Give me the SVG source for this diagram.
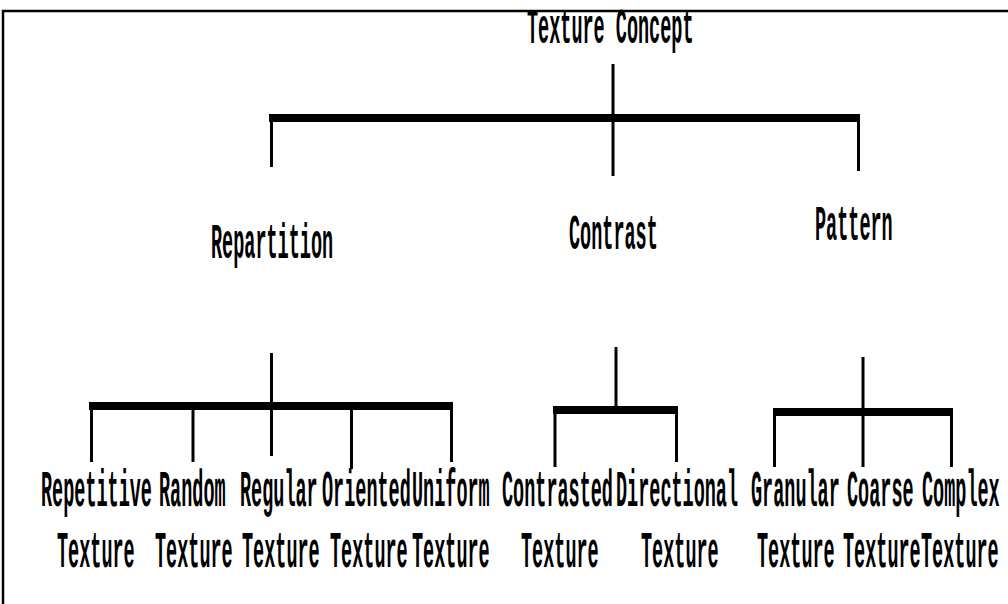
<svg xmlns="http://www.w3.org/2000/svg" width="1008" height="604" viewBox="0 0 1008 604">
  <style>
    .lbl { font-family: "Liberation Mono", "Courier New", monospace; font-size: 18.5px; font-weight: bold; fill: #000; }
    .bar { stroke: #000; stroke-width: 8; fill: none; }
    .stem { stroke: #000; stroke-width: 3; fill: none; }
    .frame { stroke: #000; stroke-width: 2.5; fill: none; }
  </style>
  <rect width="1008" height="604" fill="#fff"/>
  <!-- frame edges -->
  <path class="frame" d="M3 604 V11 H1008"/>

  <g id="connectors">
    <!-- root to level 1 -->
    <line class="stem" x1="613" y1="64" x2="613" y2="176"/>
    <line class="bar" x1="269" y1="118" x2="860" y2="118"/>
    <line class="stem" x1="271.5" y1="118" x2="271.5" y2="167"/>
    <line class="stem" x1="858.5" y1="118" x2="858.5" y2="171"/>

    <!-- Repartition branch -->
    <line class="stem" x1="271.5" y1="353" x2="271.5" y2="456"/>
    <line class="bar" x1="89" y1="406" x2="453" y2="406"/>
    <line class="stem" x1="91.5" y1="406" x2="91.5" y2="462"/>
    <line class="stem" x1="193" y1="406" x2="193" y2="462"/>
    <line class="stem" x1="351.5" y1="406" x2="351.5" y2="469"/>
    <line class="stem" x1="451.5" y1="406" x2="451.5" y2="462"/>

    <!-- Contrast branch -->
    <line class="stem" x1="616" y1="347" x2="616" y2="408"/>
    <line class="bar" x1="553" y1="410" x2="678" y2="410"/>
    <line class="stem" x1="555" y1="410" x2="555" y2="467"/>
    <line class="stem" x1="676.5" y1="410" x2="676.5" y2="462"/>

    <!-- Pattern branch -->
    <line class="stem" x1="863" y1="357" x2="863" y2="467"/>
    <line class="bar" x1="773" y1="412" x2="953" y2="412"/>
    <line class="stem" x1="774.5" y1="412" x2="774.5" y2="467"/>
    <line class="stem" x1="951.5" y1="412" x2="951.5" y2="467"/>
  </g>

  <g id="node-root"><text class="lbl" transform="translate(527 43) scale(1 2.7)">Texture Concept</text></g>
  <g id="node-repartition"><text class="lbl" transform="translate(211 258) scale(1 2.7)">Repartition</text></g>
  <g id="node-contrast"><text class="lbl" transform="translate(569 249) scale(1 2.7)">Contrast</text></g>
  <g id="node-pattern"><text class="lbl" transform="translate(815 240) scale(1 2.7)">Pattern</text></g>

  <g id="node-repetitive">
    <text class="lbl" transform="translate(41 506) scale(1 2.8)">Repetitive</text>
    <text class="lbl" transform="translate(57 567) scale(1 2.8)">Texture</text>
  </g>
  <g id="node-random">
    <text class="lbl" transform="translate(159 506) scale(1 2.8)">Random</text>
    <text class="lbl" transform="translate(155 567) scale(1 2.8)">Texture</text>
  </g>
  <g id="node-regular">
    <text class="lbl" transform="translate(240 506) scale(1 2.8)">Regular</text>
    <text class="lbl" transform="translate(242 567) scale(1 2.8)">Texture</text>
  </g>
  <g id="node-oriented">
    <text class="lbl" transform="translate(322 506) scale(1 2.8)">Oriented</text>
    <text class="lbl" transform="translate(330 567) scale(1 2.8)">Texture</text>
  </g>
  <g id="node-uniform">
    <text class="lbl" transform="translate(412 506) scale(1 2.8)">Uniform</text>
    <text class="lbl" transform="translate(412 567) scale(1 2.8)">Texture</text>
  </g>
  <g id="node-contrasted">
    <text class="lbl" transform="translate(502 506) scale(1 2.8)">Contrasted</text>
    <text class="lbl" transform="translate(521 567) scale(1 2.8)">Texture</text>
  </g>
  <g id="node-directional">
    <text class="lbl" transform="translate(616 506) scale(1 2.8)">Directional</text>
    <text class="lbl" transform="translate(641 567) scale(1 2.8)">Texture</text>
  </g>
  <g id="node-granular">
    <text class="lbl" transform="translate(751 506) scale(1 2.8)">Granular</text>
    <text class="lbl" transform="translate(757 567) scale(1 2.8)">Texture</text>
  </g>
  <g id="node-coarse">
    <text class="lbl" transform="translate(847 506) scale(1 2.8)">Coarse</text>
    <text class="lbl" transform="translate(843 567) scale(1 2.8)">Texture</text>
  </g>
  <g id="node-complex">
    <text class="lbl" transform="translate(922 506) scale(1 2.8)">Complex</text>
    <text class="lbl" transform="translate(921 567) scale(1 2.8)">Texture</text>
  </g>
</svg>
